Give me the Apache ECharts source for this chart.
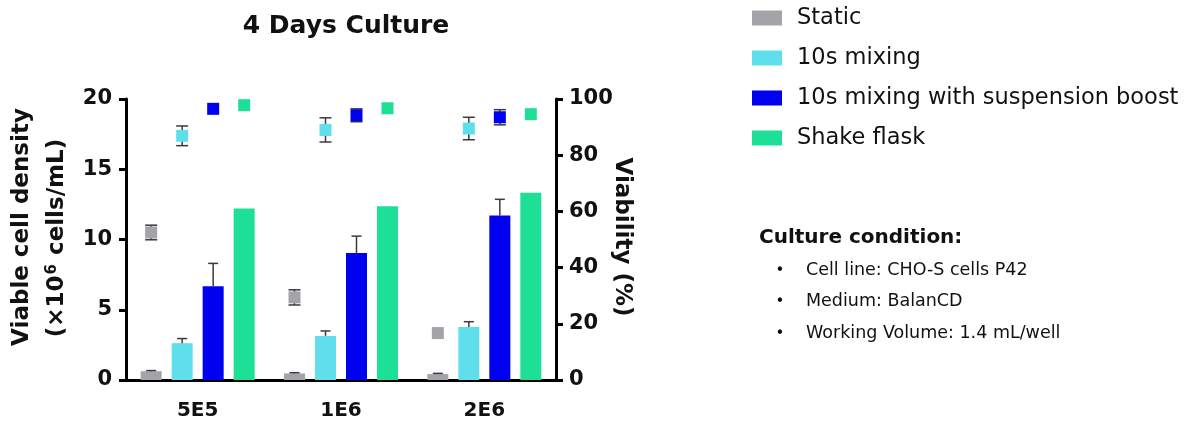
<!DOCTYPE html>
<html><head><meta charset="utf-8">
<script src="https://cdn.jsdelivr.net/npm/echarts@6/dist/echarts.min.js"></script>
<style>html,body{margin:0;padding:0;background:#fff}#c{width:1190px;height:421px}</style>
</head><body><div id="c"></div>
<script>
// ---------- data ----------
const categories = ['5E5', '1E6', '2E6'];
const seriesNames = ['Static', '10s mixing', '10s mixing with suspension boost', 'Shake flask'];
// Viable cell density (x10^6 cells/mL)
const vcdStatic = [0.62, 0.47, 0.42];
const vcdMix = [2.62, 3.14, 3.77];
const vcdBoost = [6.68, 9.04, 11.70];
const vcdFlask = [12.20, 12.37, 13.33];
const vcdErrStatic = [0.05, 0.05, 0.05];
const vcdErrMix = [0.33, 0.35, 0.38];
const vcdErrBoost = [1.62, 1.20, 1.16];
const vcdErrFlask = [0, 0, 0];
// Viability (%)
const viaStatic = [52.5, 29.4, 16.7];
const viaMix = [86.9, 89.0, 89.5];
const viaBoost = [96.5, 94.2, 93.5];
const viaFlask = [97.8, 96.7, 94.6];
const viaErrStatic = [2.6, 2.7, 0];
const viaErrMix = [3.5, 4.3, 4.0];
const viaErrBoost = [0, 2.3, 2.7];
const viaErrFlask = [0, 0, 0];
// notes
const noteTitle = 'Culture condition:';
const noteItems = ['Cell line: CHO-S cells P42', 'Medium: BalanCD', 'Working Volume: 1.4 mL/well'];

// ---------- styling ----------
const FONT = 'DejaVu Sans';
const colors = ['#a3a3a8', '#5fdfec', '#0000f0', '#1edf96'];
const BAR_W = 21, BAR_GAP = 10, BAR_PITCH = BAR_W + BAR_GAP;
const ERR_COLOR = '#3a3a3a';

const vcd = [vcdStatic, vcdMix, vcdBoost, vcdFlask];
const vcdErr = [vcdErrStatic, vcdErrMix, vcdErrBoost, vcdErrFlask];
const via = [viaStatic, viaMix, viaBoost, viaFlask];
const viaErr = [viaErrStatic, viaErrMix, viaErrBoost, viaErrFlask];

function off(i) { return (i - 1.5) * BAR_PITCH; }
function ln(x1, y1, x2, y2) {
  return { type: 'line', shape: { x1, y1, x2, y2 }, style: { stroke: ERR_COLOR, lineWidth: 1.5 } };
}
function barErrRender(i) {
  return function (params, api) {
    const x = api.value(0), m = api.value(1), e = api.value(2);
    if (!(e > 0)) return null;
    const p0 = api.coord([x, m]), p1 = api.coord([x, m + e]);
    const cx = p0[0] + off(i);
    return { type: 'group', children: [ln(cx, p0[1], cx, p1[1]), ln(cx - 5, p1[1], cx + 5, p1[1])] };
  };
}
function viaRender(i) {
  return function (params, api) {
    const x = api.value(0), m = api.value(1), e = api.value(2);
    const p = api.coord([x, m]);
    const cx = p[0] + off(i), s = 12;
    const ch = [];
    if (e > 0) {
      const pt = api.coord([x, m + e]), pb = api.coord([x, m - e]);
      ch.push(ln(cx, pt[1], cx, pb[1]), ln(cx - 6, pt[1], cx + 6, pt[1]), ln(cx - 6, pb[1], cx + 6, pb[1]));
    }
    ch.push({ type: 'rect', shape: { x: cx - s / 2, y: p[1] - s / 2, width: s, height: s }, style: { fill: colors[i] } });
    return { type: 'group', children: ch };
  };
}

const series = [];
seriesNames.forEach((name, i) => {
  series.push({
    name, type: 'bar', yAxisIndex: 0, data: vcd[i], barWidth: BAR_W,
    barGap: (BAR_GAP / BAR_W * 100).toFixed(1) + '%',
    itemStyle: { color: colors[i] }, z: 2
  });
});
seriesNames.forEach((name, i) => {
  series.push({
    name: name + ' VCD error', type: 'custom', yAxisIndex: 0, z: 3,
    renderItem: barErrRender(i), encode: { x: 0, y: 1 },
    data: categories.map((c, k) => [k, vcd[i][k], vcdErr[i][k]])
  });
});
seriesNames.forEach((name, i) => {
  series.push({
    name: name + ' viability', type: 'custom', yAxisIndex: 1, z: 4,
    renderItem: viaRender(i), encode: { x: 0, y: 1 },
    data: categories.map((c, k) => [k, via[i][k], viaErr[i][k]])
  });
});

const axisLineStyle = { color: '#000', width: 3 };
const chart = echarts.init(document.getElementById('c'));
chart.setOption({
  animation: false,
  textStyle: { fontFamily: FONT },
  title: {
    text: '4 Days Culture', left: 341, top: 9, textAlign: 'center',
    textStyle: { fontFamily: FONT, fontSize: 25, fontWeight: 'bold', color: '#111' }
  },
  legend: {
    data: seriesNames, orient: 'vertical', left: 747, top: 0, icon: 'rect',
    itemWidth: 30, itemHeight: 15, itemGap: 14, selectedMode: false,
    textStyle: { fontFamily: FONT, fontSize: 22.5, lineHeight: 26, color: '#111', padding: [0, 0, 0, 10] }
  },
  grid: { left: 126, right: 634, top: 99, bottom: 40 },
  xAxis: {
    type: 'category', data: categories,
    axisLine: { lineStyle: axisLineStyle },
    axisTick: { alignWithLabel: true, length: 7, lineStyle: { color: '#000', width: 3 } },
    axisLabel: { fontFamily: FONT, fontSize: 20, fontWeight: 'bold', color: '#111', margin: 21 }
  },
  yAxis: [
    {
      type: 'value', min: 0, max: 20, interval: 5, position: 'left',
      splitLine: { show: false },
      axisLine: { show: true, lineStyle: axisLineStyle },
      axisTick: { show: true, length: 7, lineStyle: { color: '#000', width: 3 } },
      axisLabel: { fontFamily: FONT, fontSize: 21, fontWeight: 'bold', color: '#111', margin: 14 }
    },
    {
      type: 'value', min: 0, max: 100, interval: 20, position: 'right',
      splitLine: { show: false },
      axisLine: { show: true, lineStyle: axisLineStyle },
      axisTick: { show: true, length: 7, lineStyle: { color: '#000', width: 3 } },
      axisLabel: { fontFamily: FONT, fontSize: 21, fontWeight: 'bold', color: '#111', margin: 13 }
    }
  ],
  graphic: [
    { type: 'text', x: 22, y: 227, rotation: Math.PI / 2,
      style: { text: 'Viable cell density', font: 'bold 23px "' + FONT + '"', fill: '#111', align: 'center', verticalAlign: 'middle' } },
    { type: 'text', x: 57, y: 238, rotation: Math.PI / 2,
      style: { text: '(×10{sup|6} cells/mL)', font: 'bold 23px "' + FONT + '"', fill: '#111', align: 'center', verticalAlign: 'middle',
        rich: { sup: { fontSize: 15, fontWeight: 'bold', fontFamily: FONT, verticalAlign: 'top', padding: [0, 1, 10, 1] } } } },
    { type: 'text', x: 622, y: 237, rotation: -Math.PI / 2,
      style: { text: 'Viability (%)', font: 'bold 23px "' + FONT + '"', fill: '#111', align: 'center', verticalAlign: 'middle' } },
    { type: 'text', x: 759, y: 238,
      style: { text: noteTitle, font: 'bold 20px "' + FONT + '"', fill: '#111', align: 'left', verticalAlign: 'middle' } }
  ].concat(noteItems.flatMap((t, k) => [
    { type: 'text', x: 780, y: 271 + k * 31.5,
      style: { text: '•', font: '15px "' + FONT + '"', fill: '#111', align: 'center', verticalAlign: 'middle' } },
    { type: 'text', x: 806, y: 270 + k * 31.5,
      style: { text: t, font: '17.5px "' + FONT + '"', fill: '#111', align: 'left', verticalAlign: 'middle' } }
  ])),
  series
});
</script></body></html>
